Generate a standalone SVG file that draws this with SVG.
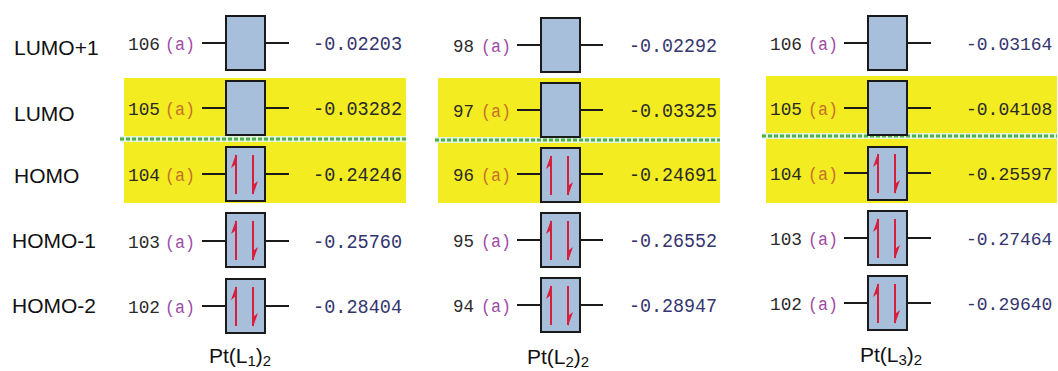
<svg xmlns="http://www.w3.org/2000/svg" xmlns:xlink="http://www.w3.org/1999/xlink" width="1058" height="371" viewBox="0 0 1058 371">
<style>
.row{font-family:"Liberation Sans",Arial,sans-serif;font-size:21px;fill:#111}
.num{font-family:"Liberation Mono","Courier New",monospace;font-size:19px;fill:#2a2a2a}
.sym{font-family:"Liberation Mono","Courier New",monospace;font-size:19px;fill:#a04aa6}
.symy{font-family:"Liberation Mono","Courier New",monospace;font-size:19px;fill:#c8702a}
.val{font-family:"Liberation Mono","Courier New",monospace;font-size:20px;fill:#34346e}
.valy{font-family:"Liberation Mono","Courier New",monospace;font-size:20px;fill:#2a2a2a}
.p3{font-size:18px}
.box{fill:#a8bfdc;stroke:#1a1a1a;stroke-width:2}
.stub{stroke:#1a1a1a;stroke-width:2}
.band{fill:#f2ec20}
.gap{fill:#e4f3dc}
.dots{stroke:#4cb04c;stroke-width:3;stroke-dasharray:4 2}
.shaft{stroke:#d81e3a;stroke-width:2}
.head{fill:#d81e3a}
.title{font-family:"Liberation Sans",Arial,sans-serif;font-size:21px;fill:#111}
</style>
<defs>
<g id="pair">
<line class="shaft" x1="10" y1="47" x2="10" y2="8"/>
<polygon class="head" points="10,7 5,21 10,17"/>
<line class="shaft" x1="27" y1="8" x2="27" y2="47"/>
<polygon class="head" points="27,48 32,34 27,38"/>
</g>
</defs>

<g id="row-labels">
<text class="row" x="14" y="55">LUMO+1</text>
<text class="row" x="14" y="121">LUMO</text>
<text class="row" x="14" y="183">HOMO</text>
<text class="row" x="12" y="248">HOMO-1</text>
<text class="row" x="12" y="313">HOMO-2</text>
</g>

<g id="highlights">
<rect class="band" x="124" y="78" width="282" height="125"/>
<rect class="gap" x="120" y="136" width="286" height="6"/>
<line class="dots" x1="120" y1="139" x2="406" y2="139"/>
<rect class="band" x="438" y="78" width="282" height="125"/>
<rect class="gap" x="435" y="137" width="285" height="6"/>
<line class="dots" x1="435" y1="140" x2="720" y2="140"/>
<rect class="band" x="766" y="76" width="291" height="127"/>
<rect class="gap" x="762" y="133" width="295" height="6"/>
<line class="dots" x1="762" y1="136" x2="1057" y2="136"/>
</g>

<g id="connectors"></g>

<!-- Panel 1 -->
<g id="p1-lumo1">
<text class="num" x="128" y="50" textLength="32" lengthAdjust="spacingAndGlyphs">106</text><text class="sym" x="195" y="50" text-anchor="end" textLength="30" lengthAdjust="spacingAndGlyphs">(a)</text>
<line class="stub" x1="202" y1="43" x2="226" y2="43"/><line class="stub" x1="265" y1="43" x2="289" y2="43"/>
<rect class="box" x="226" y="16" width="39" height="54"/>
<text class="val" x="313" y="50" textLength="89" lengthAdjust="spacingAndGlyphs">-0.02203</text>
</g>
<g id="p1-lumo">
<text class="num" x="128" y="115" textLength="32" lengthAdjust="spacingAndGlyphs">105</text><text class="symy" x="195" y="115" text-anchor="end" textLength="30" lengthAdjust="spacingAndGlyphs">(a)</text>
<line class="stub" x1="202" y1="108" x2="226" y2="108"/><line class="stub" x1="265" y1="108" x2="289" y2="108"/>
<rect class="box" x="226" y="81" width="39" height="54"/>
<text class="valy" x="313" y="115" textLength="89" lengthAdjust="spacingAndGlyphs">-0.03282</text>
</g>
<g id="p1-homo">
<text class="num" x="128" y="181" textLength="32" lengthAdjust="spacingAndGlyphs">104</text><text class="symy" x="195" y="181" text-anchor="end" textLength="30" lengthAdjust="spacingAndGlyphs">(a)</text>
<line class="stub" x1="202" y1="174" x2="226" y2="174"/><line class="stub" x1="265" y1="174" x2="289" y2="174"/>
<rect class="box" x="226" y="147" width="39" height="54"/>
<use xlink:href="#pair" x="226" y="147"/>
<text class="valy" x="313" y="181" textLength="89" lengthAdjust="spacingAndGlyphs">-0.24246</text>
</g>
<g id="p1-homo1">
<text class="num" x="128" y="248" textLength="32" lengthAdjust="spacingAndGlyphs">103</text><text class="sym" x="195" y="248" text-anchor="end" textLength="30" lengthAdjust="spacingAndGlyphs">(a)</text>
<line class="stub" x1="202" y1="241" x2="226" y2="241"/><line class="stub" x1="265" y1="241" x2="289" y2="241"/>
<rect class="box" x="226" y="213" width="39" height="54"/>
<use xlink:href="#pair" x="226" y="213"/>
<text class="val" x="313" y="248" textLength="89" lengthAdjust="spacingAndGlyphs">-0.25760</text>
</g>
<g id="p1-homo2">
<text class="num" x="128" y="313" textLength="32" lengthAdjust="spacingAndGlyphs">102</text><text class="sym" x="195" y="313" text-anchor="end" textLength="30" lengthAdjust="spacingAndGlyphs">(a)</text>
<line class="stub" x1="202" y1="306" x2="226" y2="306"/><line class="stub" x1="265" y1="306" x2="289" y2="306"/>
<rect class="box" x="226" y="279" width="39" height="54"/>
<use xlink:href="#pair" x="226" y="279"/>
<text class="val" x="313" y="313" textLength="89" lengthAdjust="spacingAndGlyphs">-0.28404</text>
</g>
<g id="p1-title"><text class="title" x="209" y="363">Pt(L<tspan font-size="15" dy="3">1</tspan><tspan dy="-3">)</tspan><tspan font-size="15" dy="3">2</tspan></text></g>

<!-- Panel 2 -->
<g id="p2-lumo1">
<text class="num" x="453" y="52" textLength="21" lengthAdjust="spacingAndGlyphs">98</text><text class="sym" x="511" y="52" text-anchor="end" textLength="30" lengthAdjust="spacingAndGlyphs">(a)</text>
<line class="stub" x1="517" y1="45" x2="541" y2="45"/><line class="stub" x1="580" y1="45" x2="603" y2="45"/>
<rect class="box" x="541" y="18" width="39" height="54"/>
<text class="val" x="629" y="52" textLength="88" lengthAdjust="spacingAndGlyphs">-0.02292</text>
</g>
<g id="p2-lumo">
<text class="num" x="453" y="117" textLength="21" lengthAdjust="spacingAndGlyphs">97</text><text class="symy" x="511" y="117" text-anchor="end" textLength="30" lengthAdjust="spacingAndGlyphs">(a)</text>
<line class="stub" x1="517" y1="110" x2="541" y2="110"/><line class="stub" x1="580" y1="110" x2="603" y2="110"/>
<rect class="box" x="541" y="83" width="39" height="54"/>
<text class="valy" x="629" y="117" textLength="88" lengthAdjust="spacingAndGlyphs">-0.03325</text>
</g>
<g id="p2-homo">
<text class="num" x="453" y="181" textLength="21" lengthAdjust="spacingAndGlyphs">96</text><text class="symy" x="511" y="181" text-anchor="end" textLength="30" lengthAdjust="spacingAndGlyphs">(a)</text>
<line class="stub" x1="517" y1="174" x2="541" y2="174"/><line class="stub" x1="580" y1="174" x2="603" y2="174"/>
<rect class="box" x="541" y="148" width="39" height="54"/>
<use xlink:href="#pair" x="541" y="148"/>
<text class="valy" x="629" y="181" textLength="88" lengthAdjust="spacingAndGlyphs">-0.24691</text>
</g>
<g id="p2-homo1">
<text class="num" x="453" y="247" textLength="21" lengthAdjust="spacingAndGlyphs">95</text><text class="sym" x="511" y="247" text-anchor="end" textLength="30" lengthAdjust="spacingAndGlyphs">(a)</text>
<line class="stub" x1="517" y1="240" x2="541" y2="240"/><line class="stub" x1="580" y1="240" x2="603" y2="240"/>
<rect class="box" x="541" y="213" width="39" height="54"/>
<use xlink:href="#pair" x="541" y="213"/>
<text class="val" x="629" y="247" textLength="88" lengthAdjust="spacingAndGlyphs">-0.26552</text>
</g>
<g id="p2-homo2">
<text class="num" x="453" y="312" textLength="21" lengthAdjust="spacingAndGlyphs">94</text><text class="sym" x="511" y="312" text-anchor="end" textLength="30" lengthAdjust="spacingAndGlyphs">(a)</text>
<line class="stub" x1="517" y1="305" x2="541" y2="305"/><line class="stub" x1="580" y1="305" x2="603" y2="305"/>
<rect class="box" x="541" y="278" width="39" height="54"/>
<use xlink:href="#pair" x="541" y="278"/>
<text class="val" x="629" y="312" textLength="88" lengthAdjust="spacingAndGlyphs">-0.28947</text>
</g>
<g id="p2-title"><text class="title" x="527" y="364">Pt(L<tspan font-size="15" dy="3">2</tspan><tspan dy="-3">)</tspan><tspan font-size="15" dy="3">2</tspan></text></g>

<!-- Panel 3 -->
<g id="p3-lumo1">
<text class="num" x="770" y="50" textLength="32" lengthAdjust="spacingAndGlyphs">106</text><text class="sym" x="838" y="50" text-anchor="end" textLength="30" lengthAdjust="spacingAndGlyphs">(a)</text>
<line class="stub" x1="844" y1="43" x2="868" y2="43"/><line class="stub" x1="907" y1="43" x2="931" y2="43"/>
<rect class="box" x="868" y="16" width="39" height="54"/>
<text class="val p3" x="966" y="50">-0.03164</text>
</g>
<g id="p3-lumo">
<text class="num" x="770" y="115" textLength="32" lengthAdjust="spacingAndGlyphs">105</text><text class="symy" x="838" y="115" text-anchor="end" textLength="30" lengthAdjust="spacingAndGlyphs">(a)</text>
<line class="stub" x1="844" y1="108" x2="868" y2="108"/><line class="stub" x1="907" y1="108" x2="931" y2="108"/>
<rect class="box" x="868" y="81" width="39" height="54"/>
<text class="valy p3" x="966" y="115">-0.04108</text>
</g>
<g id="p3-homo">
<text class="num" x="770" y="180" textLength="32" lengthAdjust="spacingAndGlyphs">104</text><text class="symy" x="838" y="180" text-anchor="end" textLength="30" lengthAdjust="spacingAndGlyphs">(a)</text>
<line class="stub" x1="844" y1="173" x2="868" y2="173"/><line class="stub" x1="907" y1="173" x2="931" y2="173"/>
<rect class="box" x="868" y="147" width="39" height="53"/>
<use xlink:href="#pair" x="868" y="146"/>
<text class="valy p3" x="966" y="180">-0.25597</text>
</g>
<g id="p3-homo1">
<text class="num" x="770" y="245" textLength="32" lengthAdjust="spacingAndGlyphs">103</text><text class="sym" x="838" y="245" text-anchor="end" textLength="30" lengthAdjust="spacingAndGlyphs">(a)</text>
<line class="stub" x1="844" y1="238" x2="868" y2="238"/><line class="stub" x1="907" y1="238" x2="931" y2="238"/>
<rect class="box" x="868" y="211" width="39" height="54"/>
<use xlink:href="#pair" x="868" y="211"/>
<text class="val p3" x="966" y="245">-0.27464</text>
</g>
<g id="p3-homo2">
<text class="num" x="770" y="310" textLength="32" lengthAdjust="spacingAndGlyphs">102</text><text class="sym" x="838" y="310" text-anchor="end" textLength="30" lengthAdjust="spacingAndGlyphs">(a)</text>
<line class="stub" x1="844" y1="303" x2="868" y2="303"/><line class="stub" x1="907" y1="303" x2="931" y2="303"/>
<rect class="box" x="868" y="276" width="39" height="54"/>
<use xlink:href="#pair" x="868" y="276"/>
<text class="val p3" x="966" y="310">-0.29640</text>
</g>
<g id="p3-title"><text class="title" x="860" y="362">Pt(L<tspan font-size="15" dy="3">3</tspan><tspan dy="-3">)</tspan><tspan font-size="15" dy="3">2</tspan></text></g>
</svg>
